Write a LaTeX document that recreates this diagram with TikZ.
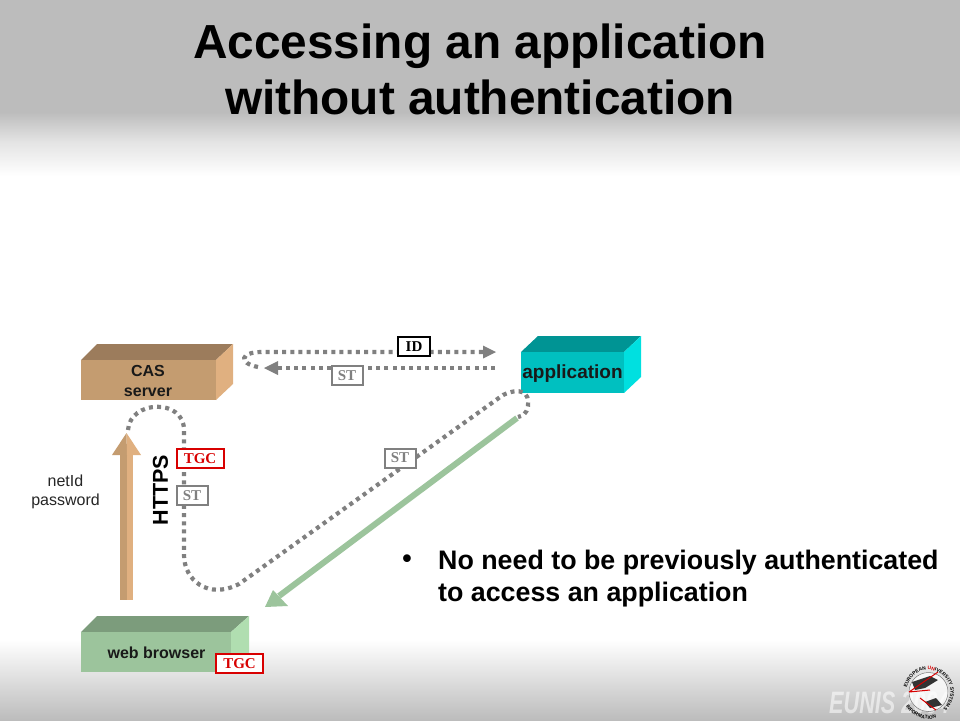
\documentclass[tikz,border=0pt]{standalone}
\usepackage{fontspec}
\setmainfont{Liberation Sans}
\newfontfamily\serifbox{Liberation Serif}
\usetikzlibrary{arrows.meta,decorations.text}
\definecolor{bandgray}{HTML}{BCBCBC}
\definecolor{bandmid}{HTML}{E4E4E4}
\definecolor{dotgray}{HTML}{808080}
\definecolor{tanfront}{HTML}{C49C70}
\definecolor{tantop}{HTML}{9C7C5C}
\definecolor{tanside}{HTML}{E0B080}
\definecolor{greenfront}{HTML}{9CC49C}
\definecolor{greentop}{HTML}{7C9C7C}
\definecolor{greenside}{HTML}{B0DEB0}
\definecolor{cyanfront}{HTML}{00C0C0}
\definecolor{cyantop}{HTML}{009494}
\definecolor{cyanside}{HTML}{00E0E0}
\definecolor{tagred}{HTML}{D80000}
\newcommand{\logofont}{\fontsize{4.9}{5}\selectfont\bfseries}
\tikzset{
  x=1pt,y=-1pt,
  dotline/.style={draw=dotgray,line width=4.2pt,dash pattern=on 4pt off 4.2pt},
  dothead/.style={fill=dotgray,draw=none},
  tagbox/.style={draw=#1,text=#1,fill=white,line width=2pt,inner sep=0pt,minimum height=19pt,
    font=\serifbox\fontsize{15}{16}\selectfont\bfseries},
  boxlabel/.style={font=\fontsize{16}{20}\selectfont\bfseries,align=center,text=black!90,inner sep=0pt},
}
\begin{document}
\begin{tikzpicture}
\useasboundingbox (0,0) rectangle (960,720);
% background bands
\fill[white] (0,0) rectangle (960,720);
\fill[bandgray] (0,0) rectangle (960,112);
\shade[top color=bandgray,bottom color=bandmid,draw=none] (0,112) rectangle (960,142);
\shade[top color=bandmid,bottom color=white,draw=none] (0,142) rectangle (960,176);
\shade[top color=white,bottom color=bandgray,draw=none] (0,640) rectangle (960,720);
% title
\node[font=\fontsize{47.8}{56}\selectfont\bfseries,align=center,inner sep=0pt,text=black] (title) at (480,69)
  {Accessing an application\\without authentication};
% CAS server box
\fill[tantop] (81,360) -- (97,344) -- (233,344) -- (216,360) -- cycle;
\fill[tanside] (216,360) -- (233,344) -- (233,384) -- (216,400) -- cycle;
\fill[tanfront] (81,360) rectangle (216,400);
\node[boxlabel] (cas) at (148,381) {CAS\\server};
% browser box
\fill[greentop] (81,632) -- (97,616) -- (249,616) -- (231,632) -- cycle;
\fill[greenside] (231,632) -- (249,616) -- (249,656) -- (231,672) -- cycle;
\fill[greenfront] (81,632) rectangle (231,672);
\node[boxlabel] (browser) at (156.5,653) {web browser};
% application box
\fill[cyantop] (521,352) -- (538,336) -- (641,336) -- (624,352) -- cycle;
\fill[cyanside] (624,352) -- (641,336) -- (641,377) -- (624,393) -- cycle;
\fill[cyanfront] (521,352) rectangle (624,393);
\node[boxlabel,font=\fontsize{19}{20}\selectfont\bfseries] (app) at (572.5,373.5) {application};
% tan arrow
\coordinate (tanbase) at (126.5,600);
\coordinate (tantip) at (126.5,433);
\fill[tanfront] (120,600) -- (127,600) -- (127,455) -- (120,455) -- cycle;
\fill[tanside] (127,600) -- (133,600) -- (133,455) -- (127,455) -- cycle;
\fill[tanfront] (tantip) -- (112,455) -- (127,455) -- cycle;
\fill[tanside] (tantip) -- (141,455) -- (127,455) -- cycle;
% green arrow
\coordinate (greenstart) at (517,418);
\coordinate (greentip) at (265,607);
\draw[greenfront,line width=6pt] (greenstart) -- (279,596);
\fill[greenfront] (greentip) -- (273,590) -- (288,606) -- cycle;
% dotted paths
\coordinate (rbA) at (495,368);
\coordinate (rbB) at (272,368);
\coordinate (rtA) at (258,367);
\coordinate (rtB) at (486,352);
\draw[dotline] (rbA) -- (rbB);
\fill[dothead] (264,368) -- (278,361) -- (278,375) -- cycle;
\draw[dotline] (rtA) .. controls (238,363) and (240,352) .. (262,352) -- (rtB);
\fill[dothead] (496,352) -- (483,345.5) -- (483,358.5) -- cycle;
\draw[dotline] (128,430) .. controls (130,400) and (184,398) .. (184,430)
  -- (184,555) .. controls (184,580) and (208,600) .. (239,584)
  -- (503,395) .. controls (520,387) and (530,392) .. (528,406)
  .. controls (527,414) and (522,416) .. (518,417);
% tags
\node[tagbox=black,minimum width=32pt] (id) at (414,346.5) {ID};
\node[tagbox=dotgray,minimum width=31pt] (st1) at (347,375.5) {ST};
\node[tagbox=tagred,minimum width=47pt] (tgc1) at (200,458.5) {TGC};
\node[tagbox=dotgray,minimum width=31pt] (st2) at (192,495.5) {ST};
\node[tagbox=dotgray,minimum width=31pt] (st3) at (400,458) {ST};
\node[tagbox=tagred,minimum width=47pt] (tgc2) at (239.5,663.5) {TGC};
% labels
\node[font=\fontsize{16}{19}\selectfont,align=center,inner sep=0pt,text=black!85] (netid) at (65.5,492) {netId\\password};
\node[font=\fontsize{21.5}{24}\selectfont\bfseries,rotate=90,inner sep=0pt] (https) at (160.5,490) {HTTPS};
\node[font=\fontsize{26.8}{32}\selectfont\bfseries,inner sep=0pt,anchor=west,align=left] (bullet) at (438,578.5)
  {No need to be previously authenticated\\to access an application};
\node[font=\fontsize{26.8}{32}\selectfont\bfseries,inner sep=0pt] (dot) at (407,561) {•};
% logo
\node[font=\fontsize{31}{31}\selectfont\bfseries\itshape,text=white,opacity=.55,inner sep=0pt,anchor=west,xscale=.7] (eunis) at (829,703) {EUNIS 2004};
\coordinate (logoc) at (928.5,692);
\fill[white,opacity=.75] (logoc) circle (20);
\draw[black!55,line width=.5pt] (logoc) circle (19.5);
\fill[black!80] (912,682) -- (930,676) -- (938,680) -- (925,688) -- (915,690) -- cycle;
\fill[black!80] (925,702) -- (936,698) -- (942,705) -- (930,708) -- cycle;
\draw[tagred,line width=1pt] (909,692) -- (938,672) (936,710) -- (920,698) (909,692) -- (930,690);
\draw[decorate,decoration={text along path,text align=center,
    text={|\logofont|EUROPEAN ||{}|\logofont\color{tagred}|UN|||\logofont|IVERSITY SYSTEMS}}]
  (906.5,692) arc[start angle=180,end angle=420,radius=22];
\draw[decorate,decoration={text along path,text align=center,
    text={|\logofont|INFORMATION}}]
  (905.1,705.5) arc[start angle=150,end angle=70,radius=27];
\end{tikzpicture}
\end{document}
